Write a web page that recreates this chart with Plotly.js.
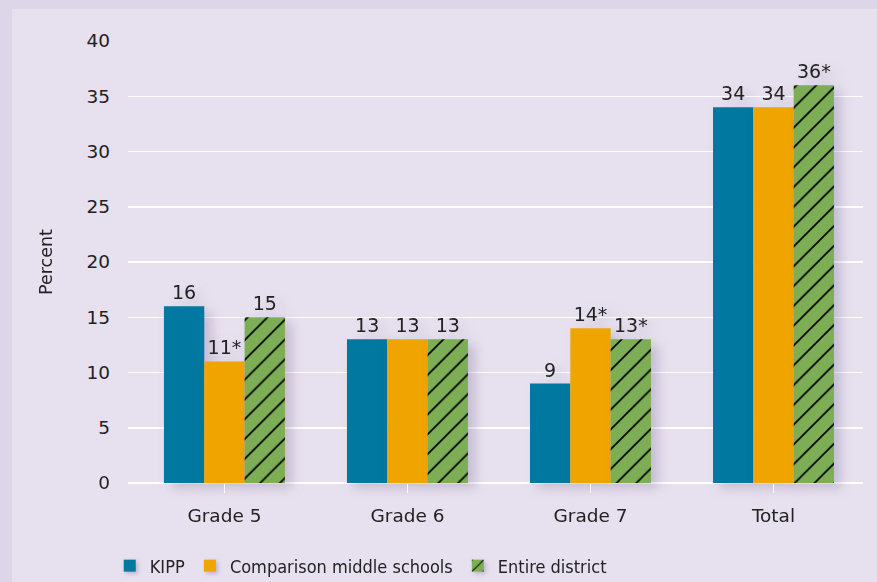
<!DOCTYPE html>
<html>
<head>
<meta charset="utf-8">
<script src="https://cdn.plot.ly/plotly-3.0.1.min.js"></script>
<style>
html,body{margin:0;padding:0;background:#ddd5e8;width:877px;height:582px;overflow:hidden;}
#chart{position:absolute;left:12px;top:9px;width:865px;height:573px;}
#chart .barlayer .points{filter:drop-shadow(7px 5px 6px rgba(90,70,120,0.25));}
#chart .legend .legendpoints{filter:drop-shadow(2px 2px 2px rgba(90,70,120,0.3));}
</style>
</head>
<body>
<div id="chart"></div>
<script>
const categories = ["Grade 5", "Grade 6", "Grade 7", "Total"];
const kipp = [16, 13, 9, 34];
const comparison = [11, 13, 14, 34];
const district = [15, 13, 13, 36];
const kippLabels = ["16", "13", "9", "34"];
const comparisonLabels = ["11*", "13", "14*", "34"];
const districtLabels = ["15", "13", "13*", "36*"];
const yTicks = [0, 5, 10, 15, 20, 25, 30, 35, 40];

const font = "DejaVu Sans, sans-serif";
const textFont = {family: font, size: 19, color: "#222"};

const traces = [
  {type: "bar", name: "KIPP", x: categories, y: kipp, text: kippLabels,
   textposition: "outside", textfont: textFont, cliponaxis: false,
   marker: {color: "#00789f", line: {width: 0}}, hoverinfo: "skip"},
  {type: "bar", name: "Comparison middle schools", x: categories, y: comparison, text: comparisonLabels,
   textposition: "outside", textfont: textFont, cliponaxis: false,
   marker: {color: "#f0a400", line: {width: 0}}, hoverinfo: "skip"},
  {type: "bar", name: "Entire district", x: categories, y: district, text: districtLabels,
   textposition: "outside", textfont: textFont, cliponaxis: false,
   marker: {color: "#7dae55", line: {width: 0},
     pattern: {shape: "/", fgcolor: "#000000", fgopacity: 1, bgcolor: "#7dae55", size: 14, solidity: 0.12, fillmode: "overlay"}},
   hoverinfo: "skip"}
];

const layout = {
  width: 865, height: 573,
  margin: {l: 116, r: 14, t: 32, b: 99, autoexpand: false},
  paper_bgcolor: "#e7e1ef",
  plot_bgcolor: "#e7e1ef",
  barmode: "group",
  bargap: 0.339,
  bargroupgap: 0,
  font: {family: font, size: 19, color: "#222"},
  showlegend: true,
  legend: {orientation: "h", xref: "container", x: 0.113, xanchor: "left",
           yref: "container", y: 0.028, yanchor: "middle",
           font: {family: "DejaVu Sans Condensed, DejaVu Sans, sans-serif", size: 18, color: "#222"},
           itemwidth: 30, tracegroupgap: 0, bgcolor: "rgba(0,0,0,0)"},
  xaxis: {
    type: "category", automargin: false,
    range: [-0.527, 3.489],
    tickfont: {family: font, size: 18.5, color: "#222"},
    ticks: "outside", ticklen: 9, tickcolor: "#ffffff", tickwidth: 1.5,
    showline: false, showgrid: false, ticklabelstandoff: 7
  },
  yaxis: {
    range: [0, 40], automargin: false,
    tickvals: yTicks,
    ticktext: yTicks.map(String),
    tickfont: {family: font, size: 18.5, color: "#222"},
    showgrid: true, gridcolor: "#ffffff", gridwidth: 1.5,
    zeroline: true, zerolinecolor: "#ffffff", zerolinewidth: 2.5,
    ticks: "", ticklabelstandoff: 17,
    title: {text: "Percent", font: {family: font, size: 17.5, color: "#222"}, standoff: 29}
  }
};

Plotly.newPlot("chart", traces, layout, {displayModeBar: false, staticPlot: true});
</script>
</body>
</html>
